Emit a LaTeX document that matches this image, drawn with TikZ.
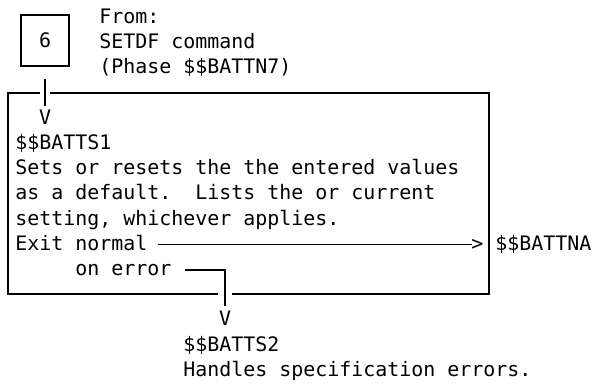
\documentclass[tikz,border=0pt]{standalone}
\usepackage{fontspec}
\newfontfamily\monofont{DejaVu Sans Mono}
\usetikzlibrary{calc}
\begin{document}
\frenchspacing
\begin{tikzpicture}[x=0.75pt,y=-0.75pt,
  txt/.style={font=\monofont\fontsize{14.95pt}{18.9pt}\selectfont, inner sep=0pt, anchor=base west},
  ln/.style={line width=0.9pt, black}]
\useasboundingbox (0,0) rectangle (593,383);
% start box
\node[draw, ln, minimum width=36pt, minimum height=38.25pt, inner sep=0pt,
      font=\monofont\fontsize{14.95pt}{18.9pt}\selectfont] (six) at (45,40.5) {6};
\node[txt] (from)  at (99,23.5) {From:};
\node[txt] (setdf) at (99,48.7) {SETDF command};
\node[txt] (phase) at (99,73.9) {(Phase \$\$BATTN7)};
% main box
\coordinate (tl) at (8,93);
\coordinate (tr) at (489,93);
\coordinate (br) at (489,294);
\coordinate (bl) at (8,294);
\coordinate (gtl) at (40,93);
\coordinate (gtr) at (50,93);
\coordinate (gbl) at (218,294);
\coordinate (gbr) at (232,294);
\draw[ln] (gtr) -- (tr) -- (br) -- (gbr);
\draw[ln] (gbl) -- (bl) -- (tl) -- (gtl);
% entry arrow
\coordinate (in1) at (45,79);
\node[txt, anchor=base] (v1) at (45,124.3) {V};
\draw[ln] (in1) -- ($(v1.north)+(0,-4)$);
% box text
\node[txt] (batts1) at (15,149.5) {\$\$BATTS1};
\node[txt] (l1) at (15,174.7) {Sets or resets the the entered values};
\node[txt] (l2) at (15,199.9) {as a default.\ \ Lists the or current};
\node[txt] (l3) at (15,225.1) {setting, whichever applies.};
\node[txt] (exit) at (15,250.3) {Exit normal};
\node[txt] (err) at (75,275.5) {on error};
% normal exit
\node[txt] (gt) at (471,250.3) {>};
\node[txt] (battna) at (495,250.3) {\$\$BATTNA};
\draw[ln] ($(exit.base east)+(10,-5.5)$) -- ($(gt.base west)+(1,-5.5)$);
% error exit
\node[txt, anchor=base] (v2) at (225,325.9) {V};
\draw[ln] ($(err.base east)+(13,-5.5)$) -| ($(v2.north)+(0,-5)$);
\node[txt] (batts2) at (183,351.1) {\$\$BATTS2};
\node[txt] (handles) at (183,376.3) {Handles specification errors.};
\end{tikzpicture}
\end{document}
